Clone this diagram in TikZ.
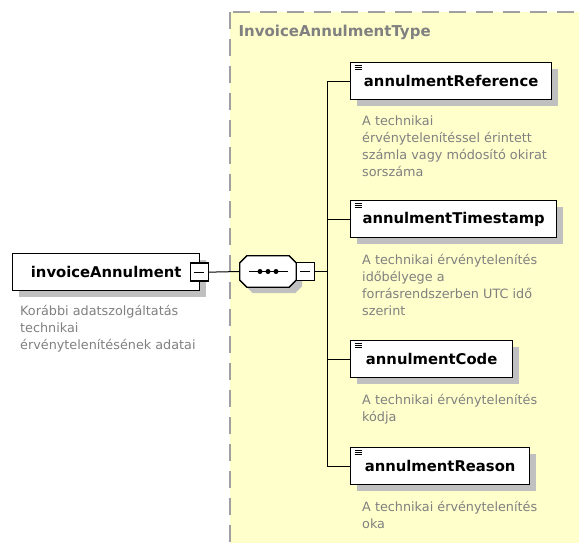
\documentclass[tikz,border=0pt]{standalone}
\usepackage{fontspec}
\setmainfont{DejaVu Sans}
\usetikzlibrary{positioning, calc, shadows}

\definecolor{typefill}{RGB}{255,255,204}
\definecolor{typeedge}{RGB}{160,160,160}
\definecolor{desctext}{RGB}{128,128,128}
\definecolor{shadowgray}{RGB}{192,192,192}

\begin{document}
\begin{tikzpicture}[
    x=1pt, y=-1pt,
    elembox/.style={
        draw=black, line width=1.3pt, fill=white,
        minimum height=37pt, minimum width=#1, inner xsep=0pt,
        font=\bfseries\fontsize{14.8}{17}\selectfont,
        drop shadow={shadow xshift=6pt, shadow yshift=-6pt,
            fill=shadowgray, opacity=1}
    },
    childbox/.style={
        elembox=#1, anchor=north west,
        path picture={
            \foreach \k in {0,1,2}
                \draw[line width=0.8pt]
                    ([xshift=4pt, yshift=-3pt-2*\k pt]path picture bounding box.north west)
                    -- ++(7pt,0);
        }
    },
    desc/.style={
        anchor=north west, align=left, text=desctext, inner sep=0pt,
        font=\fontsize{12.8}{17}\selectfont
    },
    minusbox/.style={
        draw=black, line width=1.4pt, fill=white,
        minimum size=18pt, inner sep=0pt,
        path picture={
            \draw[line width=0.8pt]
                ([xshift=-5pt]path picture bounding box.center)
                -- ([xshift=5pt]path picture bounding box.center);
        }
    },
    seqframe/.style={minimum width=56pt, minimum height=31pt, inner sep=0pt},
    octline/.style={
        draw=black, line width=1.3pt, fill=white,
        drop shadow={shadow xshift=6pt, shadow yshift=-6pt,
            fill=shadowgray, opacity=1}
    },
    conn/.style={draw=black, line width=1pt}
]
\useasboundingbox (0,0) rectangle (579,542);
\clip (0,0) rectangle (579,542);

% --- complex type container ---
\draw[fill=typefill, draw=typeedge, line width=1.5pt,
    dash pattern=on 17pt off 10pt] (230,12) rectangle (600,570);
\node[anchor=west, text=desctext, font=\bfseries\fontsize{15}{17}\selectfont]
    (typename) at (235,32) {InvoiceAnnulmentType};

% --- root element ---
\node[elembox=187pt, anchor=north west] (root) at (12,253) {invoiceAnnulment};
\node[minusbox] (rootm) at ([xshift=-1pt]root.east) {};
\node[desc] (rootdesc) at (20,305)
    {Korábbi adatszolgáltatás\\technikai\\érvénytelenítésének adatai};

% --- sequence compositor ---
\node[seqframe] (seq) at (268,271.5) {};
\draw[octline] ([xshift=7pt]seq.north west) -- ([xshift=-7pt]seq.north east)
    -- ([yshift=-7pt]seq.north east) -- ([yshift=7pt]seq.south east)
    -- ([xshift=-7pt]seq.south east) -- ([xshift=7pt]seq.south west)
    -- ([yshift=7pt]seq.south west) -- ([yshift=-7pt]seq.north west) -- cycle;
\draw[line width=1pt] ([xshift=-19pt]seq.center) -- ([xshift=20pt]seq.center);
\foreach \dx in {-8,0,8}
    \fill ([xshift=\dx pt]seq.center) circle (2.5pt);
\node[minusbox] (seqm) at ([xshift=9pt]seq.east) {};

% --- child elements ---
\node[childbox=201pt] (ref) at (350,62) {annulmentReference};
\node[desc] (refdesc) at (362,116)
    {A technikai\\érvénytelenítéssel érintett\\számla vagy módosító okirat\\sorszáma};

\node[childbox=206pt] (stamp) at (350,200) {annulmentTimestamp};
\node[desc] (stampdesc) at (362,254)
    {A technikai érvénytelenítés\\időbélyege a\\forrásrendszerben UTC idő\\szerint};

\node[childbox=162pt] (code) at (350,340) {annulmentCode};
\node[desc] (codedesc) at (362,394)
    {A technikai érvénytelenítés\\kódja};

\node[childbox=179pt] (reason) at (350,447) {annulmentReason};
\node[desc] (reasondesc) at (362,501)
    {A technikai érvénytelenítés\\oka};

% --- connectors ---
\coordinate (bus) at (327,271.5);
\draw[conn] (rootm.east) -- (seq.west);
\draw[conn] (seqm.east) -- (bus);
\draw[conn] (bus |- ref.west) -- (bus |- reason.west);
\foreach \c in {ref, stamp, code, reason}
    \draw[conn] (bus |- \c.west) -- (\c.west);

\end{tikzpicture}
\end{document}
